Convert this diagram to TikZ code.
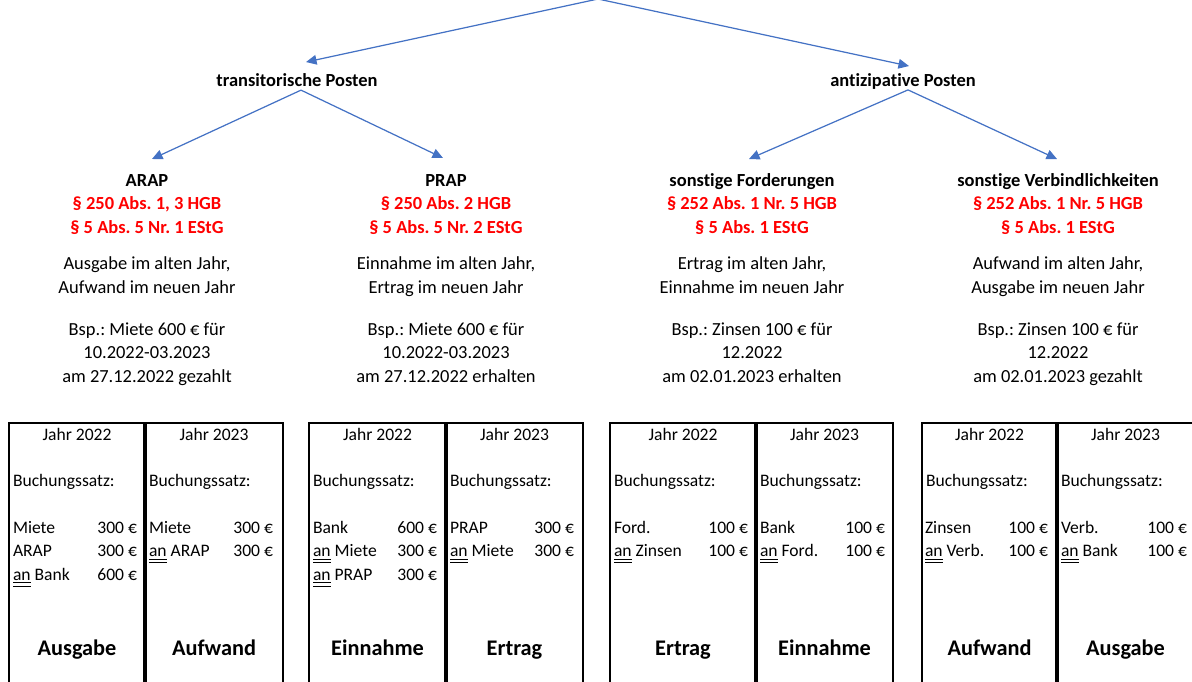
\documentclass[tikz,border=0pt]{standalone}
\usepackage{fontspec}
\setmainfont[Ligatures=NoCommon]{Carlito}
\usetikzlibrary{arrows.meta,calc,positioning}
\definecolor{pfeilblau}{HTML}{4472C4}
\definecolor{normrot}{HTML}{FF0000}
\newcommand{\dan}{\underline{\underline{an}}}
\frenchspacing

\begin{document}
\begin{tikzpicture}[x=0.02cm,y=-0.02cm,
  every node/.style={inner sep=0pt,outer sep=0pt,font=\fontsize{10.5}{13.1}\selectfont},
  pfeil/.style={pfeilblau,line width=0.7pt,-{Triangle[length=6pt,width=5.5pt]}},
  kopf/.style={font=\fontsize{10.5}{13.1}\selectfont\bfseries,anchor=base,align=center},
  block/.style={align=center,anchor=base},
  rahmen/.style={line width=0.9pt},
  trenner/.style={line width=2.4pt},
  zeile/.style={font=\fontsize{10}{12}\selectfont},
  art/.style={font=\fontsize{12.7}{15}\selectfont\bfseries,anchor=base}]
\useasboundingbox (0,0) rectangle (1192,682);
% Baum
\coordinate (top) at (598,-1);
\node[kopf] (trans) at (297,87) {transitorische Posten};
\node[kopf] (anti) at (903,87) {antizipative Posten};
\node[kopf] (arap) at (147,233) {ARAP\\\color{normrot}§ 250 Abs. 1, 3 HGB\\\color{normrot}§ 5 Abs. 5 Nr. 1 EStG};
\node[kopf] (prap) at (446,233) {PRAP\\\color{normrot}§ 250 Abs. 2 HGB\\\color{normrot}§ 5 Abs. 5 Nr. 2 EStG};
\node[kopf] (ford) at (752,233) {sonstige Forderungen\\\color{normrot}§ 252 Abs. 1 Nr. 5 HGB\\\color{normrot}§ 5 Abs. 1 EStG};
\node[kopf] (verb) at (1058,233) {sonstige Verbindlichkeiten\\\color{normrot}§ 252 Abs. 1 Nr. 5 HGB\\\color{normrot}§ 5 Abs. 1 EStG};
\draw[pfeil] (top) -- ($(trans.north)+(9,-12)$);
\draw[pfeil] (top) -- ($(anti.north)+(6,-8)$);
\draw[pfeil] ($(trans.south)+(4,3)$) -- ($(arap.north)+(5,-16)$);
\draw[pfeil] ($(trans.south)+(4,3)$) -- ($(prap.north)+(-3,-17)$);
\draw[pfeil] ($(anti.south)+(5,0)$) -- ($(ford.north)+(-3,-15)$);
\draw[pfeil] ($(anti.south)+(5,0)$) -- ($(verb.north)+(-1,-15)$);
% Erklaerungen
\node[block] (arap-t) at (147,293) {Ausgabe im alten Jahr,\\Aufwand im neuen Jahr};
\node[block] (prap-t) at (446,293) {Einnahme im alten Jahr,\\Ertrag im neuen Jahr};
\node[block] (ford-t) at (752,293) {Ertrag im alten Jahr,\\Einnahme im neuen Jahr};
\node[block] (verb-t) at (1058,293) {Aufwand im alten Jahr,\\Ausgabe im neuen Jahr};
\node[block] (arap-b) at (147,382) {Bsp.: Miete 600 € für\\10.2022-03.2023\\am 27.12.2022 gezahlt};
\node[block] (prap-b) at (446,382) {Bsp.: Miete 600 € für\\10.2022-03.2023\\am 27.12.2022 erhalten};
\node[block] (ford-b) at (752,382) {Bsp.: Zinsen 100 € für\\12.2022\\am 02.01.2023 erhalten};
\node[block] (verb-b) at (1058,382) {Bsp.: Zinsen 100 € für\\12.2022\\am 02.01.2023 gezahlt};
% Kaesten
\foreach \l/\d/\r [count=\k] in {9/145/283, 309/446/583, 610/756/893, 922/1057/1194}{
  \draw[rahmen] (\l,682) -- (\l,423) -- (\r,423) -- (\r,682);
  \draw[trenner] (\d,423) -- (\d,682);
  \node[zeile,anchor=base] (j\k a) at ({(\l+\d)/2},440) {Jahr 2022};
  \node[zeile,anchor=base] (j\k b) at ({(\d+\r)/2},440) {Jahr 2023};
  \node[zeile,anchor=base west] (s\k a) at (\l+4,486) {Buchungssatz:};
  \node[zeile,anchor=base west] (s\k b) at (\d+4,486) {Buchungssatz:};
}
% Buchungssaetze
\foreach \t/\b [count=\i] in {Miete/300 €, ARAP/300 €, \dan{} Bank/600 €}{
  \node[zeile,anchor=base west] (e1a\i) at (13,509.5+23.5*\i) {\t};
  \node[zeile,anchor=base east] (w1a\i) at (137,509.5+23.5*\i) {\b};}
\foreach \t/\b [count=\i] in {Miete/300 €, \dan{} ARAP/300 €}{
  \node[zeile,anchor=base west] (e1b\i) at (149,509.5+23.5*\i) {\t};
  \node[zeile,anchor=base east] (w1b\i) at (273,509.5+23.5*\i) {\b};}
\foreach \t/\b [count=\i] in {Bank/600 €, \dan{} Miete/300 €, \dan{} PRAP/300 €}{
  \node[zeile,anchor=base west] (e2a\i) at (313,509.5+23.5*\i) {\t};
  \node[zeile,anchor=base east] (w2a\i) at (437,509.5+23.5*\i) {\b};}
\foreach \t/\b [count=\i] in {PRAP/300 €, \dan{} Miete/300 €}{
  \node[zeile,anchor=base west] (e2b\i) at (450,509.5+23.5*\i) {\t};
  \node[zeile,anchor=base east] (w2b\i) at (574,509.5+23.5*\i) {\b};}
\foreach \t/\b [count=\i] in {Ford./100 €, \dan{} Zinsen/100 €}{
  \node[zeile,anchor=base west] (e3a\i) at (614,509.5+23.5*\i) {\t};
  \node[zeile,anchor=base east] (w3a\i) at (748,509.5+23.5*\i) {\b};}
\foreach \t/\b [count=\i] in {Bank/100 €, \dan{} Ford./100 €}{
  \node[zeile,anchor=base west] (e3b\i) at (760,509.5+23.5*\i) {\t};
  \node[zeile,anchor=base east] (w3b\i) at (885,509.5+23.5*\i) {\b};}
\foreach \t/\b [count=\i] in {Zinsen/100 €, \dan{} Verb./100 €}{
  \node[zeile,anchor=base west] (e4a\i) at (925,509.5+23.5*\i) {\t};
  \node[zeile,anchor=base east] (w4a\i) at (1048,509.5+23.5*\i) {\b};}
\foreach \t/\b [count=\i] in {Verb./100 €, \dan{} Bank/100 €}{
  \node[zeile,anchor=base west] (e4b\i) at (1061,509.5+23.5*\i) {\t};
  \node[zeile,anchor=base east] (w4b\i) at (1187,509.5+23.5*\i) {\b};}
% Ausgabe / Aufwand usw.
\foreach \x/\w [count=\i] in {77/Ausgabe, 214/Aufwand, 377.5/Einnahme, 514.5/Ertrag, 683/Ertrag, 824.5/Einnahme, 989.5/Aufwand, 1125.5/Ausgabe}
  \node[art] (art\i) at (\x,655) {\w};
\end{tikzpicture}
\end{document}
